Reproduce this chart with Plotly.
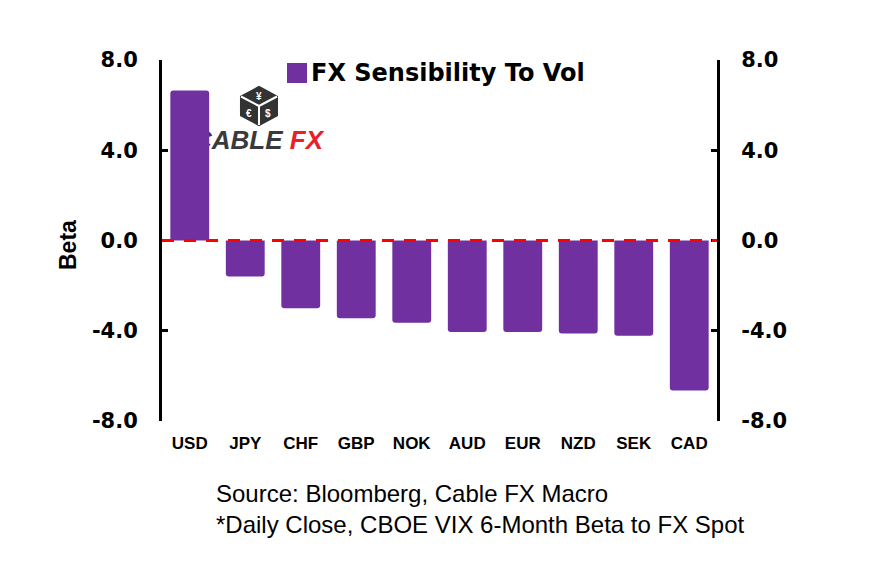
import plotly.graph_objects as go

categories = ["USD", "JPY", "CHF", "GBP", "NOK", "AUD", "EUR", "NZD", "SEK", "CAD"]
beta = [6.65, -1.6, -3.0, -3.45, -3.65, -4.05, -4.05, -4.12, -4.22, -6.65]
y_ticks = [-8, -4, 0, 4, 8]
y_tick_labels = ["-8.0", "-4.0", "0.0", "4.0", "8.0"]
series_name = "FX Sensibility To Vol"

PURPLE = "#7030A0"
ARIAL = "Liberation Sans, Arial, sans-serif"
WIDE = "DejaVu Sans, sans-serif"

# plot-area geometry in window pixels (page has an 8px body margin)
L, R, T, B = 162, 717, 60, 421
W, H = R - L, B - T
OFF = 8


def px(x):
    return (x - L) / W


def py(y):
    return (B - y) / H


fig = go.Figure()

# logo text on the base subplot so that the bars are painted over it
fig.add_trace(go.Scatter(
    x=[px(258)], y=[py(142)], mode="text", xaxis="x", yaxis="y",
    text=["<i><b><span style='color:#3a3a3a'>CABLE</span> <span style='color:#E8202A'>FX</span></b></i>"],
    textfont=dict(family=ARIAL, size=26), textposition="middle center",
    showlegend=False, hoverinfo="skip"))

fig.add_trace(go.Bar(
    x=categories, y=beta, name=series_name, xaxis="x2", yaxis="y2",
    marker=dict(color=PURPLE, cornerradius=3, line=dict(width=0)),
    width=0.7, showlegend=False,
))
fig.add_trace(go.Scatter(x=categories, y=beta, xaxis="x2", yaxis="y3", mode="markers",
                         marker=dict(opacity=0), showlegend=False, hoverinfo="skip"))

axis_common = dict(
    range=[-8, 8], tickvals=y_ticks, ticktext=y_tick_labels,
    showgrid=False, zeroline=False, showline=True, linecolor="black", linewidth=3,
    ticks="inside", ticklen=6, tickwidth=3, tickcolor="black", ticklabelstandoff=17,
    tickfont=dict(family=WIDE, size=21, color="black", weight="bold"),
)

fig.update_layout(
    width=896, height=582,
    margin=dict(l=L - OFF, r=896 - R + OFF, t=T - OFF, b=582 - B + OFF),
    paper_bgcolor="white", plot_bgcolor="white",
    font=dict(family=ARIAL, color="black"),
    showlegend=False,
    xaxis=dict(range=[0, 1], visible=False, fixedrange=True),
    yaxis=dict(range=[0, 1], visible=False, fixedrange=True),
    xaxis2=dict(overlaying="x", anchor="y2", range=[-0.5, 9.5], showgrid=False, showline=False,
                ticks="", ticklabelstandoff=10,
                tickfont=dict(family=ARIAL, size=17, color="black", weight="bold")),
    yaxis2=dict(**axis_common, side="left", overlaying="y", anchor="x2"),
    yaxis3=dict(**axis_common, side="right", overlaying="y", anchor="x2"),
)

# zero line
fig.add_shape(type="line", xref="paper", yref="paper", x0=0, x1=1, y0=py(240.5), y1=py(240.5),
              line=dict(color="#FF0000", width=3, dash="12px,10px"), layer="above")

# manual legend
fig.add_shape(type="rect", xref="paper", yref="paper", x0=px(287), x1=px(307), y0=py(83), y1=py(63),
              fillcolor=PURPLE, line=dict(width=0))
fig.add_annotation(xref="paper", yref="paper", x=px(309), y=py(73), xanchor="left", yanchor="middle",
                   showarrow=False, text=series_name,
                   font=dict(family=WIDE, size=24, color="black", weight="bold"))

# y title
fig.add_annotation(xref="paper", yref="paper", x=px(68), y=py(245), xanchor="center", yanchor="middle",
                   showarrow=False, text="Beta", textangle=-90,
                   font=dict(family=ARIAL, size=23, color="black", weight="bold"))

# dice icon of the logo
cx, cy = 259, 106
hexpts = [(cx, 87), (277, 96.5), (277, 115.5), (cx, 125), (241, 115.5), (241, 96.5)]
path = "M " + " L ".join(f"{px(a):.4f} {py(b):.4f}" for a, b in hexpts) + " Z"
fig.add_shape(type="path", xref="paper", yref="paper", path=path,
              fillcolor="#333333", line=dict(color="#333333", width=2), layer="below")
for ex, ey in [(241, 96.5), (277, 96.5), (cx, 125)]:
    fig.add_shape(type="line", xref="paper", yref="paper", x0=px(cx), y0=py(cy), x1=px(ex), y1=py(ey),
                  line=dict(color="white", width=2), layer="below")
for sym, sx, sy in [("¥", 259, 96), ("€", 249, 113), ("$", 268, 113)]:
    fig.add_annotation(xref="paper", yref="paper", x=px(sx), y=py(sy), showarrow=False, text=sym,
                       xanchor="center", yanchor="middle",
                       font=dict(family=ARIAL, size=10, color="white", weight="bold"))

# source notes
fig.add_annotation(xref="paper", yref="paper", x=px(214), y=py(493),
                   xanchor="left", yanchor="middle", showarrow=False, align="left",
                   text="Source: Bloomberg, Cable FX Macro",
                   font=dict(family=ARIAL, size=24, color="black"))
fig.add_annotation(xref="paper", yref="paper", x=px(214), y=py(524),
                   xanchor="left", yanchor="middle", showarrow=False, align="left",
                   text="*Daily Close, CBOE VIX 6-Month Beta to FX Spot",
                   font=dict(family=ARIAL, size=24, color="black"))

fig.write_html("out.html")
